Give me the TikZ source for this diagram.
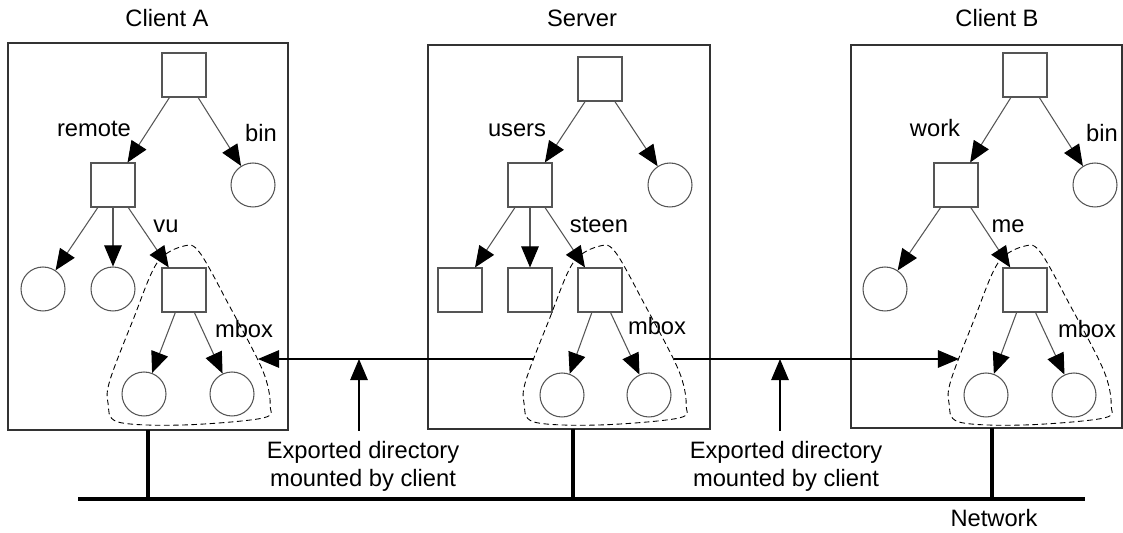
\documentclass[tikz,border=0pt]{standalone}
\usepackage{fontspec}
\setmainfont{Liberation Sans}
\usetikzlibrary{arrows.meta,positioning}
\definecolor{edgegray}{RGB}{85,85,85}
\tikzset{circ/.style={circle,draw=edgegray,line width=0.6pt,inner sep=0pt,minimum size=8.8mm},
  sq/.style={rectangle,draw=edgegray,line width=0.6pt,inner sep=0pt,minimum size=8.8mm},
  hostbox/.style={rectangle,draw=black!80,line width=0.65pt,inner sep=0pt},
  lbl/.style={anchor=base,inner sep=0pt},
  expl/.style={align=center,inner sep=0pt},
  treearrow/.style={draw=edgegray,line width=0.6pt,-{Triangle[length=12pt,width=10pt,black]}},
  plainarrow/.style={draw=black,line width=0.6pt,-{Triangle[length=12pt,width=10pt]}},
  mountline/.style={draw=black,line width=0.5pt,dash pattern=on 3.2pt off 2pt},
  bus/.style={draw=black,line width=2.8pt},
  drop/.style={draw=black,line width=2.2pt}}
% dashed outline round a mounted subtree, #1 = its top node, #2 = name
\newcommand{\mountarea}[2]{%
  \begin{scope}[shift={(#1)}]
    \draw[mountline] plot[smooth cycle,tension=0.55] coordinates {(0,-44) (-27,-27) (-51,30) (-74,90) (-76,113)
      (-66,132) (-1,135) (79,128) (86,115) (83,93) (73,68) (46,17) (16,-37)};
    \coordinate (#2-l) at (-66,69);
    \coordinate (#2-r) at (74,69);
  \end{scope}}
\begin{document}
\begin{tikzpicture}[x=0.02cm,y=-0.02cm,font=\fontsize{13.5}{15.9}\selectfont]
    \useasboundingbox (0,0) rectangle (1123,533);

    % Client A
    \node[hostbox,minimum width=5.6cm,minimum height=7.74cm] (hostA) at (148,236.5) {};
    \node[lbl] (ttlA) at (167,27) {Client A};
    \node[sq] (rA) at (184,75) {};
    \node[sq] (remA) at (113,185) {};
    \node[circ] (binA) at (253,185) {};
    \node[circ] (fA1) at (43,289) {};
    \node[circ] (fA2) at (113,289) {};
    \node[sq] (vuA) at (184,290) {};
    \node[circ] (mA1) at (144,394) {};
    \node[circ] (mA2) at (232,394) {};
    \node[lbl] (lremA) at (94,137) {remote};
    \node[lbl] (lbinA) at (261,142) {bin};
    \node[lbl] (lvuA) at (166,233) {vu};
    \node[lbl] (lmbA) at (244,338) {mbox};

    \draw[treearrow] (rA) -- (remA);
    \draw[treearrow] (rA) -- (binA);
    \draw[treearrow] (remA) -- (fA1);
    \draw[treearrow] (remA) -- (fA2);
    \draw[treearrow] (remA) -- (vuA);
    \draw[treearrow] (vuA) -- (mA1);
    \draw[treearrow] (vuA) -- (mA2);
    \mountarea{vuA}{am}

    % Server
    \node[hostbox,minimum width=5.64cm,minimum height=7.68cm] (hostS) at (569,237) {};
    \node[lbl] (ttlS) at (582,27) {Server};
    \node[sq] (rS) at (600,79) {};
    \node[sq] (usS) at (530,185) {};
    \node[circ] (cS) at (670,185) {};
    \node[sq] (dS1) at (460,290) {};
    \node[sq] (dS2) at (530,290) {};
    \node[sq] (stS) at (600,290) {};
    \node[circ] (mS1) at (562,395) {};
    \node[circ] (mS2) at (649,395) {};
    \node[lbl] (lusS) at (517,137) {users};
    \node[lbl] (lstS) at (599,233) {steen};
    \node[lbl] (lmbS) at (657,335) {mbox};

    \draw[treearrow] (rS) -- (usS);
    \draw[treearrow] (rS) -- (cS);
    \draw[treearrow] (usS) -- (dS1);
    \draw[treearrow] (usS) -- (dS2);
    \draw[treearrow] (usS) -- (stS);
    \draw[treearrow] (stS) -- (mS1);
    \draw[treearrow] (stS) -- (mS2);
    \mountarea{stS}{sm}

    % Client B
    \node[hostbox,minimum width=5.42cm,minimum height=7.66cm] (hostB) at (986.5,236.5) {};
    \node[lbl] (ttlB) at (997,27) {Client B};
    \node[sq] (rB) at (1025,75) {};
    \node[sq] (wkB) at (956,185) {};
    \node[circ] (binB) at (1095,185) {};
    \node[circ] (fB1) at (885,289) {};
    \node[sq] (meB) at (1025,290) {};
    \node[circ] (mB1) at (986,395) {};
    \node[circ] (mB2) at (1074,395) {};
    \node[lbl] (lwkB) at (935,137) {work};
    \node[lbl] (lbinB) at (1102,142) {bin};
    \node[lbl] (lmeB) at (1008,233) {me};
    \node[lbl] (lmbB) at (1087,338) {mbox};

    \draw[treearrow] (rB) -- (wkB);
    \draw[treearrow] (rB) -- (binB);
    \draw[treearrow] (wkB) -- (fB1);
    \draw[treearrow] (wkB) -- (meB);
    \draw[treearrow] (meB) -- (mB1);
    \draw[treearrow] (meB) -- (mB2);
    \mountarea{meB}{bm}

    % mounts
    \draw[plainarrow] (sm-l) -- (am-r);
    \draw[plainarrow] (sm-r) -- (bm-l);
    \coordinate (upA) at (359,0);
    \coordinate (upB) at (780,0);
    \draw[plainarrow] (upA |- hostA.south) -- (upA |- am-r);
    \draw[plainarrow] (upB |- hostA.south) -- (upB |- bm-l);
    \node[expl] (expA) at (363,466) {Exported directory\\mounted by client};
    \node[expl] (expB) at (786,466) {Exported directory\\mounted by client};

    % network
    \coordinate (netL) at (78,499);
    \coordinate (netR) at (1085,499);
    \coordinate (tapA) at (148,430);
    \coordinate (tapS) at (573,429);
    \coordinate (tapB) at (992,428);
    \draw[bus] (netL) -- (netR);
    \draw[drop] (tapA) -- (tapA |- netL);
    \draw[drop] (tapS) -- (tapS |- netL);
    \draw[drop] (tapB) -- (tapB |- netL);
    \node[lbl] (lnet) at (994,526) {Network};
\end{tikzpicture}
\end{document}
